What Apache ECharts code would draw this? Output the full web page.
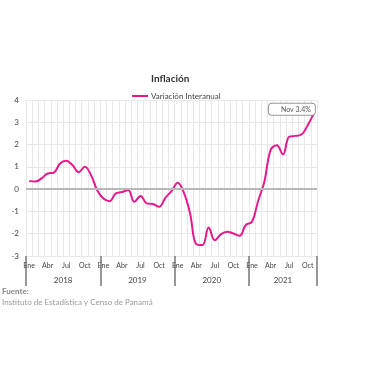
<!DOCTYPE html>
<html><head><meta charset="utf-8">
<script src="https://cdn.jsdelivr.net/npm/echarts@6/dist/echarts.min.js"></script>
<style>html,body{margin:0;padding:0;background:#fff}#c{width:380px;height:380px}</style>
</head><body><div id="c"></div>
<script>
const years = ['2018', '2019', '2020', '2021'];
const monthsPerYear = [12, 12, 12, 11];
const monthNames = ['Ene','Feb','Mar','Abr','May','Jun','Jul','Ago','Sep','Oct','Nov','Dic'];
const shownMonths = ['Ene','Abr','Jul','Oct'];
const inflation = [
  0.36, 0.34, 0.48, 0.70, 0.74, 1.15, 1.27, 1.08, 0.76, 1.00, 0.63, -0.05,
  -0.42, -0.54, -0.19, -0.13, -0.04, -0.57, -0.31, -0.64, -0.67, -0.79, -0.39, -0.09,
  0.29, -0.16, -1.09, -2.47, -2.51, -1.72, -2.29, -2.02, -1.91, -1.99, -2.09, -1.61,
  -1.46, -0.52, 0.33, 1.75, 1.97, 1.56, 2.35, 2.39, 2.45, 2.87, 3.4
];
const seriesName = 'Variación Interanual';
const yTicks = [-3, -2, -1, 0, 1, 2, 3, 4];

const categories = [];
const yearStarts = [];
let cnt = 0;
years.forEach((y, i) => {
  yearStarts.push(cnt);
  for (let m = 0; m < monthsPerYear[i]; m++) { categories.push(monthNames[m] + ' ' + y); cnt++; }
});
const yearEdges = yearStarts.concat([cnt]);
const yearCenters = yearStarts.map((s, i) => s + monthsPerYear[i] / 2);

const last = inflation.length - 1;
const lineColor = '#e5198c';
const data = inflation.map((v, i) => i === last ? {
  value: v,
  symbol: 'circle', symbolSize: 2,
  label: {
    show: true, position: 'inside', offset: [-22, -4],
    formatter: () => categories[i].split(' ')[0] + ' ' + v.toFixed(1) + '%',
    fontSize: 7, color: '#555', backgroundColor: '#fff',
    borderColor: '#999', borderWidth: 1, borderRadius: 3, padding: [2, 4, 2, 12]
  }
} : {value: v, symbol: 'none'});

const font = 'Lato';
const chart = echarts.init(document.getElementById('c'), null, {renderer: 'canvas'});
chart.setOption({
  animation: false,
  textStyle: {fontFamily: font},
  title: {
    text: 'Inflación', left: 146, top: 69,
    textStyle: {fontSize: 10, fontWeight: 'bold', color: '#333', fontFamily: font}
  },
  legend: {
    data: [{name: seriesName, icon: 'rect'}], left: 127, top: 87, itemWidth: 16, itemHeight: 2, itemGap: 4,
    textStyle: {fontSize: 8, color: '#444', padding: [0, 0, 0, -2]}
  },
  grid: {left: 26, right: 63, top: 100, bottom: 124, containLabel: false, outerBoundsMode: 'none'},
  xAxis: [{
    type: 'category', data: categories, boundaryGap: true,
    axisLine: {show: false}, axisTick: {show: false},
    axisLabel: {
      interval: 0, margin: 6, fontSize: 7, color: '#444',
      formatter: (val) => { const m = val.split(' ')[0]; return shownMonths.includes(m) ? m : ''; }
    },
    splitLine: {show: true, interval: 0, lineStyle: {color: '#e8e8e8', width: 1}}
  }, {
    type: 'value', position: 'bottom', min: 0, max: cnt,
    axisLine: {show: false},
    splitLine: {show: false},
    axisTick: {show: true, customValues: yearEdges, length: 30, lineStyle: {color: '#777', width: 1.5}},
    axisLabel: {
      customValues: yearCenters, margin: 20, fontSize: 8, color: '#444',
      formatter: (v) => years[yearCenters.indexOf(v)] || ''
    }
  }],
  yAxis: {
    type: 'value', min: -3, max: 4, interval: 1,
    name: 'Porcentajes', nameLocation: 'middle', nameRotate: 90, nameGap: 17,
    nameTextStyle: {fontSize: 8, color: '#444'},
    axisLine: {show: false}, axisTick: {show: false},
    axisLabel: {fontSize: 8, color: '#444', margin: 7,
      formatter: (v) => yTicks.includes(v) ? String(v) : ''},
    splitLine: {lineStyle: {color: '#e8e8e8', width: 1}}
  },
  series: [{
    name: seriesName, type: 'line', xAxisIndex: 0, data: data, smooth: 0.4,
    showSymbol: true, symbol: 'circle',
    lineStyle: {color: lineColor, width: 2}, itemStyle: {color: lineColor},
    markLine: {
      silent: true, symbol: 'none', label: {show: false},
      lineStyle: {color: '#b8b8b8', width: 2, type: 'solid'},
      data: [{yAxis: 0}]
    }
  }],
  graphic: [{
    type: 'text', left: 2, top: 287,
    style: {text: 'Fuente:', font: 'bold 8px ' + font, fill: '#888'}
  }, {
    type: 'text', left: 2, top: 298,
    style: {text: 'Instituto de Estadística y Censo de Panamá', font: '8px ' + font, fill: '#999'}
  }]
});
</script></body></html>
